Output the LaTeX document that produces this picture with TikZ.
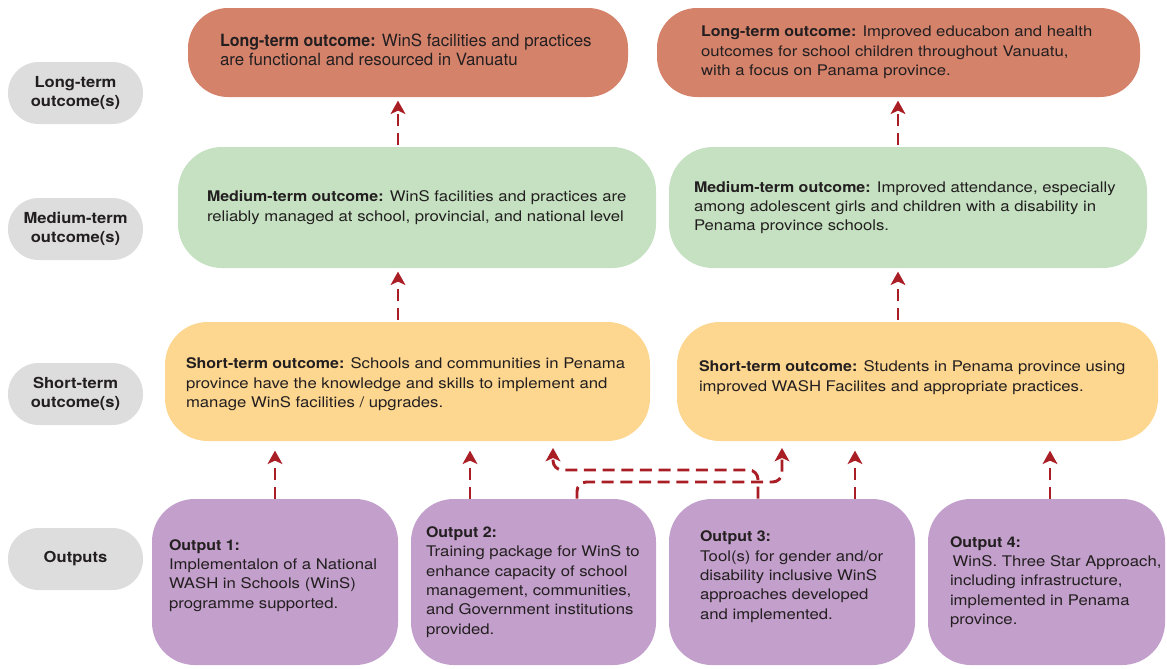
\documentclass[tikz,border=0pt]{standalone}
\usepackage{fontspec}
\setmainfont{TeX Gyre Heros}[UprightFeatures={FakeStretch=1.14}, BoldFeatures={FakeStretch=1.09}]
\newfontfamily\narrowfont{TeX Gyre Heros}[BoldFeatures={FakeStretch=0.95}]
\usetikzlibrary{arrows.meta}
\definecolor{ltc}{HTML}{D5826B}
\definecolor{mtc}{HTML}{C5E1C1}
\definecolor{stc}{HTML}{FDD68F}
\definecolor{opc}{HTML}{C39FCB}
\definecolor{gyc}{HTML}{DDDDDD}
\definecolor{txc}{HTML}{231F20}
\definecolor{arc}{HTML}{A91D25}
\newcommand\pxu{0.75pt}
\newcommand\bodyfont{\fontsize{11pt}{14.5pt}\selectfont}
\begin{document}
\begin{tikzpicture}[x=0.75pt,y=-0.75pt,
  box/.style={rectangle, draw=none, inner sep=0pt},
  ltbox/.style={box, fill=ltc, rounded corners=30pt, minimum height=89*\pxu},
  mtbox/.style={box, fill=mtc, rounded corners=33pt, minimum height=121*\pxu},
  stbox/.style={box, fill=stc, rounded corners=32pt, minimum height=119*\pxu},
  opbox/.style={box, fill=opc, rounded corners=32pt, minimum height=166*\pxu},
  gybox/.style={box, fill=gyc, rounded corners=23pt, minimum height=62*\pxu, minimum width=135*\pxu, align=center, text=txc, font=\bfseries\fontsize{11.4pt}{14.2pt}\selectfont},
  txt/.style={anchor=west, align=left, inner sep=0pt, text=txc, font=\bodyfont},
  arr/.style={draw=arc, line width=2.2pt, dash pattern=on 9pt off 5pt, -{Stealth[length=10pt, width=11pt, inset=2.5pt]}},
]
\useasboundingbox (0,0) rectangle (1167,668);

% row labels
\node[gybox] (g1) at (75.5,93) {Long-term\\outcome(s)};
\node[gybox] (g2) at (75.5,229) {Medium-term\\outcome(s)};
\node[gybox] (g3) at (75.5,394) {Short-term\\outcome(s)};
\node[gybox] (g4) at (75.5,559) {Outputs};

% long-term
\node[ltbox, minimum width=440*\pxu] (lt1) at (408,52.5) {};
\node[ltbox, minimum width=483*\pxu] (lt2) at (898.5,52.5) {};
\node[txt, font=\narrowfont\fontsize{12.65pt}{14.9pt}\selectfont] (lt1t) at ([xshift=32*\pxu,yshift=2pt]lt1.west) {\textbf{Long-term outcome:} WinS facilities and practices\\are functional and resourced in Vanuatu};
\node[txt] (lt2t) at ([xshift=44*\pxu]lt2.west) {\textbf{Long-term outcome:} Improved educabon and health\\outcomes for school children throughout Vanuatu,\\with a focus on Panama province.};

% medium-term
\node[mtbox, minimum width=478*\pxu] (mt1) at (417,207.5) {};
\node[mtbox, minimum width=478*\pxu] (mt2) at (908,207.5) {};
\node[txt] (mt1t) at ([xshift=29*\pxu]mt1.west) {\textbf{Medium-term outcome:} WinS facilities and practices are\\reliably managed at school, provincial, and national level};
\node[txt] (mt2t) at ([xshift=25*\pxu]mt2.west) {\textbf{Medium-term outcome:} Improved attendance, especially\\among adolescent girls and children with a disability in\\Penama province schools.};

% short-term
\node[stbox, minimum width=485*\pxu] (st1) at (407.5,381.5) {};
\node[stbox, minimum width=481*\pxu] (st2) at (917.5,381.5) {};
\node[txt] (st1t) at ([xshift=21*\pxu,yshift=-2pt]st1.west) {\textbf{Short-term outcome:} Schools and communities in Penama\\province have the knowledge and skills to implement and\\manage WinS facilities / upgrades.};
\node[txt] (st2t) at ([xshift=22*\pxu,yshift=3pt]st2.west) {\textbf{Short-term outcome:} Students in Penama province using\\improved WASH Facilites and appropriate practices.};

% outputs
\node[opbox, minimum width=246*\pxu] (o1) at (275,582) {};
\node[opbox, minimum width=245*\pxu] (o2) at (533.5,582) {};
\node[opbox, minimum width=246*\pxu] (o3) at (792,582) {};
\node[opbox, minimum width=237*\pxu] (o4) at (1046.5,582) {};
\node[txt] (o1t) at ([xshift=17*\pxu,yshift=5pt]o1.west) {\textbf{Output 1:}\\Implementalon of a National\\WASH in Schools (WinS)\\programme supported.};
\node[txt] (o2t) at ([xshift=15*\pxu]o2.west) {\textbf{Output 2:}\\Training package for WinS to\\enhance capacity of school\\management, communities,\\and Government institutions\\provided.};
\node[txt] (o3t) at ([xshift=31*\pxu,yshift=4pt]o3.west) {\textbf{Output 3:}\\Tool(s) for gender and/or\\disability inclusive WinS\\approaches developed\\and implemented.};
\node[txt] (o4t) at ([xshift=22*\pxu]o4.west) {\textbf{Output 4:}\\\hspace{2pt}WinS. Three Star Approach,\\including infrastructure,\\implemented in Penama\\province.};

% arrow columns
\coordinate (xa) at (398,0);
\coordinate (xb) at (898,0);
\coordinate (x1) at (275,0);
\coordinate (x2) at (470,0);
\coordinate (x3) at (855,0);
\coordinate (x4) at (1050,0);
\coordinate (x5) at (577,0);
\coordinate (x6) at (758,0);
\coordinate (h1) at (553,470);
\coordinate (h2) at (782,482);

\draw[arr, shorten <=1.5pt, shorten >=2.5pt] (mt1.north -| xa) -- (lt1.south -| xa);
\draw[arr, shorten <=1.5pt, shorten >=2.5pt] (mt2.north -| xb) -- (lt2.south -| xb);
\draw[arr, shorten <=1.5pt, shorten >=2.5pt] (st1.north -| xa) -- (mt1.south -| xa);
\draw[arr, shorten <=1.5pt, shorten >=2.5pt] (st2.north -| xb) -- (mt2.south -| xb);
\draw[arr, shorten >=7pt] (o1.north -| x1) -- (st1.south -| x1);
\draw[arr, shorten >=7pt] (o2.north -| x2) -- (st1.south -| x2);
\draw[arr, shorten >=7pt] (o3.north -| x3) -- (st2.south -| x3);
\draw[arr, shorten >=7pt] (o4.north -| x4) -- (st2.south -| x4);
\draw[arr, rounded corners=7pt, shorten >=5pt] (o3.north -| x6) |- (h1) -- (st1.south -| h1);
\draw[arr, rounded corners=7pt, shorten >=5pt] (o2.north -| x5) |- (h2) -- (st2.south -| h2);
\end{tikzpicture}
\end{document}
